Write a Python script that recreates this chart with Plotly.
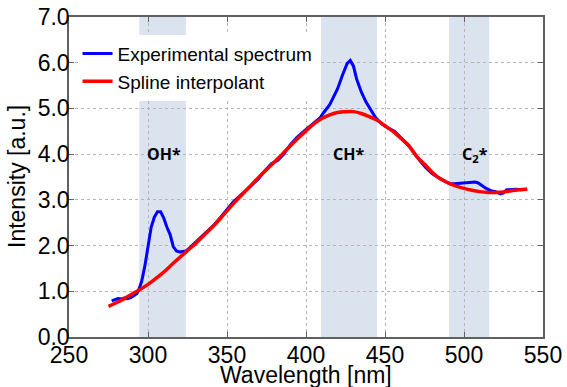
import plotly.graph_objects as go

# Experimental spectrum (blue)
exp_wl = [277, 279, 281, 283, 285, 287, 289, 291, 293, 294, 296, 298, 300, 302, 304, 306, 308,
          310, 312, 314, 316, 318, 320, 322, 324, 327, 330, 334, 338, 342, 346, 350, 354,
          358, 362, 366, 370, 374, 378, 382, 386, 390, 394, 398, 402, 406, 409, 411, 413,
          415, 417, 420, 423, 426, 428, 430, 432, 435, 438, 441, 444, 448, 452, 456, 460,
          464, 468, 472, 476, 480, 484, 488, 491, 494, 497, 500, 504, 507, 509, 511, 514,
          517, 520, 523, 525, 527, 530, 533, 536, 540]
exp_val = [0.79, 0.82, 0.84, 0.83, 0.85, 0.84, 0.86, 0.90, 0.95, 1.02, 1.22, 1.55, 2.00, 2.40, 2.62, 2.74, 2.74,
           2.60, 2.40, 2.24, 1.98, 1.88, 1.86, 1.87, 1.88, 1.97, 2.07, 2.20, 2.34, 2.46, 2.62, 2.79, 2.96,
           3.08, 3.21, 3.32, 3.46, 3.64, 3.79, 3.86, 4.00, 4.20, 4.36, 4.48, 4.60, 4.72, 4.80, 4.90, 4.98,
           5.08, 5.22, 5.43, 5.72, 5.98, 6.05, 5.93, 5.65, 5.36, 5.14, 4.96, 4.80, 4.66, 4.57, 4.50, 4.36,
           4.22, 4.05, 3.86, 3.70, 3.57, 3.48, 3.41, 3.35, 3.35, 3.36, 3.37, 3.38, 3.39, 3.37, 3.32, 3.25,
           3.20, 3.18, 3.13, 3.15, 3.22, 3.23, 3.23, 3.22, 3.23]

# Spline interpolant (red)
spl_wl = [275, 280, 285, 290, 295, 300, 305, 310, 315, 320, 325, 330, 335, 340, 345, 350, 355,
          360, 365, 370, 375, 380, 385, 390, 395, 400, 405, 410, 415, 420, 425, 430, 435, 440,
          445, 450, 455, 460, 465, 470, 475, 480, 485, 490, 495, 500, 505, 510, 515, 520, 525,
          530, 535, 540]
spl_val = [0.67, 0.75, 0.84, 0.94, 1.04, 1.15, 1.28, 1.42, 1.58, 1.74, 1.89, 2.04, 2.21, 2.38, 2.56, 2.76, 2.95,
           3.13, 3.31, 3.49, 3.66, 3.83, 4.00, 4.18, 4.35, 4.51, 4.66, 4.78, 4.86, 4.91, 4.93, 4.93, 4.89, 4.82,
           4.74, 4.62, 4.50, 4.35, 4.19, 3.95, 3.78, 3.60, 3.46, 3.37, 3.30, 3.25, 3.21, 3.18, 3.16, 3.16, 3.17,
           3.20, 3.22, 3.23]

# Emission bands
band_start = [294.5, 409.5, 490.5]
band_end = [324, 445, 516]
band_label = ["OH*", "CH*", "C<sub>2</sub>*"]
label_x = [310, 427, 507]
label_y = [4.0, 4.0, 4.0]

x_ticks = [250, 300, 350, 400, 450, 500, 550]
y_ticks = [0, 1, 2, 3, 4, 5, 6, 7]
x_title = "Wavelength [nm]"
y_title = "Intensity [a.u.]"

fig = go.Figure()
fig.add_trace(go.Scatter(x=exp_wl, y=exp_val, mode="lines", name="Experimental spectrum",
                         line=dict(color="#0000ff", width=3)))
fig.add_trace(go.Scatter(x=spl_wl, y=spl_val, mode="lines", name="Spline interpolant",
                         line=dict(color="#ff0000", width=3.5, shape="spline")))

for s, e in zip(band_start, band_end):
    fig.add_shape(type="rect", xref="x", yref="paper", x0=s, x1=e, y0=0, y1=1,
                  fillcolor="#dbe3ef", line_width=0, layer="below")

for t, x, y in zip(band_label, label_x, label_y):
    fig.add_annotation(x=x, y=y, text=t, showarrow=False,
                       font=dict(family="Noto Sans", size=16, color="black", weight="bold"))

title_font = dict(family="Liberation Sans, Arial", size=23, color="black")
fig.add_annotation(xref="paper", yref="paper", x=0.5, y=0, yanchor="top", xanchor="center",
                   yshift=-23, text=x_title, showarrow=False, font=title_font)
fig.add_annotation(xref="paper", yref="paper", x=0, y=0.5, xanchor="center", yanchor="middle",
                   xshift=-52, textangle=-90, text=y_title, showarrow=False, font=title_font)

axis_common = dict(showline=True, linecolor="#606060", linewidth=1.5, mirror="ticks",
                   ticks="inside", ticklen=5, tickcolor="#606060", automargin=False,
                   showgrid=True, gridcolor="#b5b5b5", griddash="dot", gridwidth=1,
                   zeroline=False, tickfont=dict(family="Liberation Sans, Arial", size=23, color="black"))

fig.update_xaxes(range=[250, 550], tickvals=x_ticks, ticklabelstandoff=-3, **axis_common)
fig.update_yaxes(range=[0, 7], tickvals=y_ticks, tickformat=".1f", ticklabelstandoff=-7, **axis_common)

fig.update_layout(
    width=567, height=387,
    margin=dict(l=69, r=24, t=17, b=50),
    paper_bgcolor="white", plot_bgcolor="white",
    showlegend=True,
    legend=dict(x=0.018, y=0.945, xanchor="left", yanchor="top",
                bgcolor="white", borderwidth=0,
                font=dict(family="Liberation Sans, Arial", size=19, color="black"),
                tracegroupgap=0, itemwidth=30),
)

fig.write_html("out.html")
